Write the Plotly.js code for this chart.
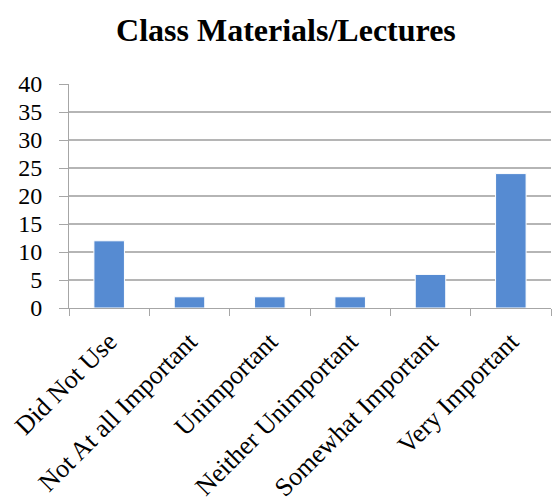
<!DOCTYPE html>
<html><head><meta charset="utf-8">
<script src="https://cdn.plot.ly/plotly-3.0.1.min.js"></script>
<style>body{margin:0;background:#fff}#c{width:552px;height:500px}</style>
</head><body><div id="c"></div>
<script>
const categories = ["Did Not Use","Not At all Important","Unimportant","Neither Unimportant","Somewhat Important","Very Important"];
const values = [12, 2, 2, 2, 6, 24];
const yTicks = [0,5,10,15,20,25,30,35,40];

const serif = "Liberation Serif, Times New Roman, serif";
Plotly.newPlot('c', [{
  type: 'bar', x: categories, y: values,
  marker: {color: '#568bd2', line: {color: '#ffffff', width: 1}},
  hoverinfo: 'none'
}], {
  width: 552, height: 500,
  margin: {l: 69, r: 1, t: 84, b: 192},
  paper_bgcolor: '#fff', plot_bgcolor: '#fff',
  bargap: 0.62,
  showlegend: false,
  title: {text: '<b>Class Materials/Lectures</b>', font: {family: serif, size: 32, color: '#000'}, x: 0.518, xanchor: 'center', y: 0.94, yanchor: 'middle'},
  xaxis: {
    type: 'category', tickangle: -45, tickson: 'boundaries', ticks: 'outside', ticklen: 7, tickcolor: '#a6a6a6',
    showline: true, linecolor: '#a6a6a6', linewidth: 1, showgrid: false,
    tickfont: {family: serif, size: 26, color: '#000'}, ticklabelstandoff: 7, fixedrange: true
  },
  yaxis: {
    range: [0, 40], tickvals: yTicks, ticktext: yTicks.map(String), ticks: 'outside', ticklen: 9, tickcolor: '#a6a6a6',
    showline: true, linecolor: '#a6a6a6', linewidth: 1, gridcolor: '#b5b5b5', gridwidth: 1.3, zeroline: false,
    tickfont: {family: serif, size: 24, color: '#000'}, ticklabelstandoff: 12, fixedrange: true
  }
}, {displayModeBar: false, staticPlot: true});
</script></body></html>
